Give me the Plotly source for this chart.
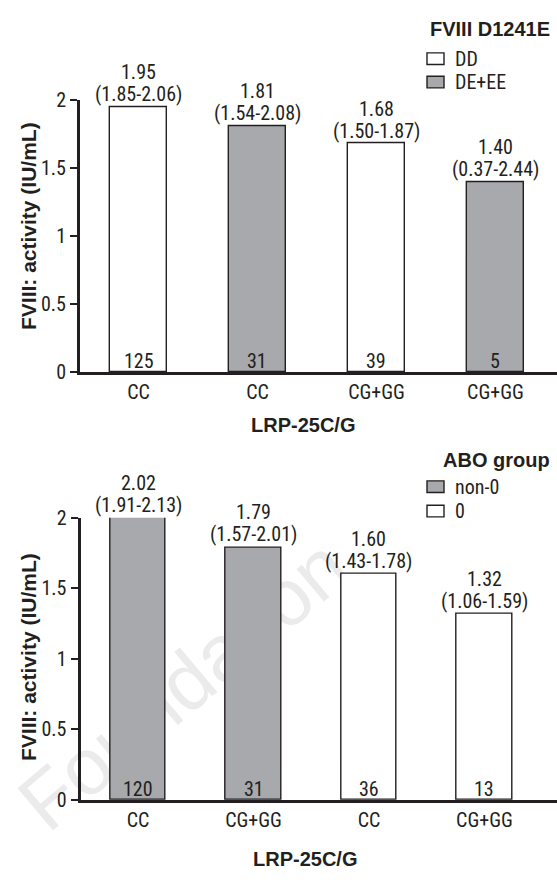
import plotly.graph_objects as go

W, H = 557, 883

# ---------------- data ----------------
top_categories = ["CC", "CC", "CG+GG", "CG+GG"]
top_means = [1.95, 1.81, 1.68, 1.40]
top_ci_low = [1.85, 1.54, 1.50, 0.37]
top_ci_high = [2.06, 2.08, 1.87, 2.44]
top_n = [125, 31, 39, 5]
top_groups = ["DD", "DE+EE", "DD", "DE+EE"]
top_legend_title = "FVIII D1241E"
top_legend_items = ["DD", "DE+EE"]

bot_categories = ["CC", "CG+GG", "CC", "CG+GG"]
bot_means = [2.02, 1.79, 1.60, 1.32]
bot_ci_low = [1.91, 1.57, 1.43, 1.06]
bot_ci_high = [2.13, 2.01, 1.78, 1.59]
bot_n = [120, 31, 36, 13]
bot_groups = ["non-0", "non-0", "0", "0"]
bot_legend_title = "ABO group"
bot_legend_items = ["non-0", "0"]

y_ticks = [0, 0.5, 1, 1.5, 2]
y_tick_labels = ["0", "0.5", "1", "1.5", "2"]
x_title = "LRP-25C/G"
y_title = "FVIII: activity (IU/mL)"
watermark = "Foundation"

# ---------------- style ----------------
INK = "#231f20"
GRAY = "#a7a9ac"
WHITE = "#ffffff"
NARROW = "Liberation Sans Narrow, Roboto Condensed, DejaVu Sans Condensed, Arial Narrow, sans-serif"
BOLD = "Liberation Sans, Arial, sans-serif"
top_colors = {"DD": WHITE, "DE+EE": GRAY}
bot_colors = {"non-0": GRAY, "0": WHITE}


def px_x(x):
    return x / W


def px_y(y):
    return 1 - y / H


fig = go.Figure()

panels = [
    dict(cats=top_categories, means=top_means, lo=top_ci_low, hi=top_ci_high, n=top_n,
         groups=top_groups, colors=top_colors, xa="x", ya="y",
         ltitle=top_legend_title, litems=top_legend_items),
    dict(cats=bot_categories, means=bot_means, lo=bot_ci_low, hi=bot_ci_high, n=bot_n,
         groups=bot_groups, colors=bot_colors, xa="x2", ya="y2",
         ltitle=bot_legend_title, litems=bot_legend_items),
]

YMAX = 2.0
annotations = []
shapes = []

for p in panels:
    xs = list(range(len(p["cats"])))
    fig.add_trace(go.Bar(
        x=xs, y=p["means"], xaxis=p["xa"], yaxis=p["ya"],
        width=0.48,
        marker=dict(color=[p["colors"][g] for g in p["groups"]],
                    line=dict(color=INK, width=1.4)),
        showlegend=False, hoverinfo="skip",
    ))
    for i, (m, lo, hi, n) in enumerate(zip(p["means"], p["lo"], p["hi"], p["n"])):
        ytop = min(m, YMAX)
        annotations.append(dict(x=i, y=ytop, xref=p["xa"], yref=p["ya"],
                                text=f"{m:.2f}", showarrow=False, yanchor="middle",
                                yshift=35, font=dict(family=NARROW, size=20, color=INK)))
        annotations.append(dict(x=i, y=ytop, xref=p["xa"], yref=p["ya"],
                                text=f"({lo:.2f}-{hi:.2f})", showarrow=False, yanchor="middle",
                                yshift=13, font=dict(family=NARROW, size=20, color=INK)))
        annotations.append(dict(x=i, y=0, xref=p["xa"], yref=p["ya"],
                                text=str(n), showarrow=False, yanchor="middle",
                                yshift=11, font=dict(family=NARROW, size=20, color=INK)))

axis_common_x = dict(showline=True, linecolor=INK, linewidth=3, ticks="",
                     showgrid=False, zeroline=False, tickmode="array",
                     tickfont=dict(family=NARROW, size=20, color=INK))
axis_common_y = dict(showline=True, linecolor=INK, linewidth=3, ticks="outside",
                     ticklen=7, tickwidth=2, tickcolor=INK, showgrid=False, zeroline=False,
                     tickmode="array", tickvals=y_ticks, ticktext=y_tick_labels,
                     range=[0, YMAX],
                     tickfont=dict(family=NARROW, size=20, color=INK))

fig.update_layout(
    width=W, height=H, autosize=False,
    margin=dict(l=0, r=0, t=0, b=0, pad=0),
    paper_bgcolor="white", plot_bgcolor="rgba(0,0,0,0)",
    bargap=0,
    xaxis=dict(axis_common_x, domain=[px_x(80), 1], range=[-0.4916, 3.517],
               tickvals=list(range(4)), ticktext=top_categories, anchor="y"),
    yaxis=dict(axis_common_y, domain=[px_y(370), px_y(90.7)], anchor="x"),
    xaxis2=dict(axis_common_x, domain=[px_x(80.5), 1], range=[-0.498, 3.628],
                tickvals=list(range(4)), ticktext=bot_categories, anchor="y2"),
    yaxis2=dict(axis_common_y, domain=[px_y(810), px_y(520)], anchor="x2"),
)

# axis titles
for cx, cy in [(303, 425), (305, 871)]:
    annotations.append(dict(x=px_x(cx), y=px_y(cy), xref="paper", yref="paper",
                            text=f"<b>{x_title}</b>", showarrow=False,
                            xanchor="center", yanchor="middle",
                            font=dict(family=BOLD, size=20, color=INK)))
for cx, cy in [(28, 220), (29, 663)]:
    annotations.append(dict(x=px_x(cx), y=px_y(cy), xref="paper", yref="paper",
                            text=f"<b>{y_title}</b>", showarrow=False, textangle=-90,
                            xanchor="center", yanchor="middle",
                            font=dict(family=BOLD, size=21, color=INK)))

# legends
legend_pos = [
    dict(title_y=17, rows=[48, 72], colors=top_colors),
    dict(title_y=461, rows=[488, 513], colors=bot_colors),
]
for p, lp in zip(panels, legend_pos):
    annotations.append(dict(x=px_x(552), y=px_y(lp["title_y"]), xref="paper", yref="paper",
                            text=f"<b>{p['ltitle']}</b>", showarrow=False,
                            xanchor="right", yanchor="middle",
                            font=dict(family=BOLD, size=20, color=INK)))
    for item, ry in zip(p["litems"], lp["rows"]):
        shapes.append(dict(type="rect", xref="paper", yref="paper",
                           x0=px_x(427), x1=px_x(444), y0=px_y(ry - 6), y1=px_y(ry + 6),
                           fillcolor=lp["colors"][item], line=dict(color=INK, width=1.4)))
        annotations.append(dict(x=px_x(453), y=px_y(ry), xref="paper", yref="paper",
                                text=item, showarrow=False, xanchor="left", yanchor="middle",
                                font=dict(family=NARROW, size=20, color=INK)))

# faint watermark (below the data)
shapes.append(dict(type="line", xref="paper", yref="paper", layer="below",
                   x0=px_x(27), y0=px_y(816), x1=px_x(329), y1=px_y(554),
                   line=dict(width=0, color="rgba(0,0,0,0)"),
                   label=dict(text=watermark, textposition="middle", yanchor="middle",
                              font=dict(family="Liberation Sans, Arial, sans-serif",
                                        size=80, color="#ebebeb"))))

fig.update_layout(annotations=annotations, shapes=shapes)
fig.write_html("out.html", config={"displayModeBar": False},
               post_script="document.body.style.margin='0';document.body.style.overflow='hidden';")
